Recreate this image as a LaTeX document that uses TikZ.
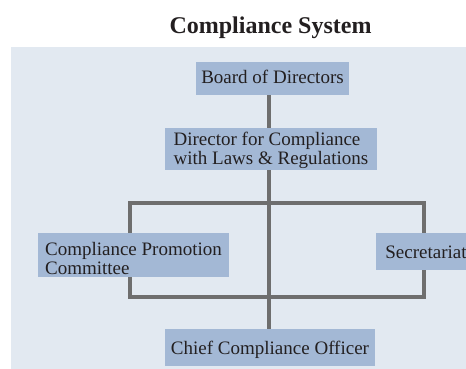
\documentclass[tikz,border=0pt]{standalone}
\usepackage{fontspec}
\setmainfont{Liberation Serif}
\definecolor{panelbg}{HTML}{E2E9F1}
\definecolor{boxfill}{HTML}{A3B8D5}
\definecolor{linegray}{HTML}{6E6E6E}
\definecolor{txt}{HTML}{231F20}
\pgfdeclarelayer{background}
\pgfdeclarelayer{lines}
\pgfsetlayers{background,lines,main}
\begin{document}
\begin{tikzpicture}[x=1pt,y=-1pt,
  orgbox/.style={fill=boxfill, text=txt, inner sep=0pt,
    font=\fontsize{19}{18.6}\selectfont, align=left},
  link/.style={draw=linegray, line width=4pt, line join=miter}]
\useasboundingbox (0,0) rectangle (466,369);
\begin{pgfonlayer}{background}
  \fill[panelbg] (11,47) rectangle (466,369);
\end{pgfonlayer}
\node[font=\bfseries\fontsize{24}{28}\selectfont, text=txt, anchor=base]
  (title) at (270.5,34) {Compliance System};
\node[orgbox, minimum width=153pt, minimum height=33pt, text height=13pt, text depth=2pt]
  (board) at (272.5,78.5) {Board of Directors};
\node[orgbox, minimum width=212pt, minimum height=42pt]
  (director) at (271,149) {\rule{0pt}{16pt}Director for Compliance\\with Laws \& Regulations};
\node[orgbox, minimum width=191pt, minimum height=44pt]
  (promotion) at (133.5,255) {\rule{0pt}{20.7pt}Compliance Promotion\\Committee};
\node[orgbox, minimum width=100pt, minimum height=37pt, text height=13pt, text depth=0pt]
  (secretariat) at (426,251.5) {Secretariat};
\node[orgbox, minimum width=210pt, minimum height=37pt, text height=14pt, text depth=0pt]
  (chief) at (270,347.5) {Chief Compliance Officer};
\begin{pgfonlayer}{lines}
  \coordinate (tx) at (269,0);
  \draw[link] (board.south -| tx) -- (chief.north -| tx);
  \coordinate (loopnw) at (129.7,202.5);
  \coordinate (loopse) at (424,297);
  \draw[link] (loopnw) rectangle (loopse);
\end{pgfonlayer}
\end{tikzpicture}
\end{document}
